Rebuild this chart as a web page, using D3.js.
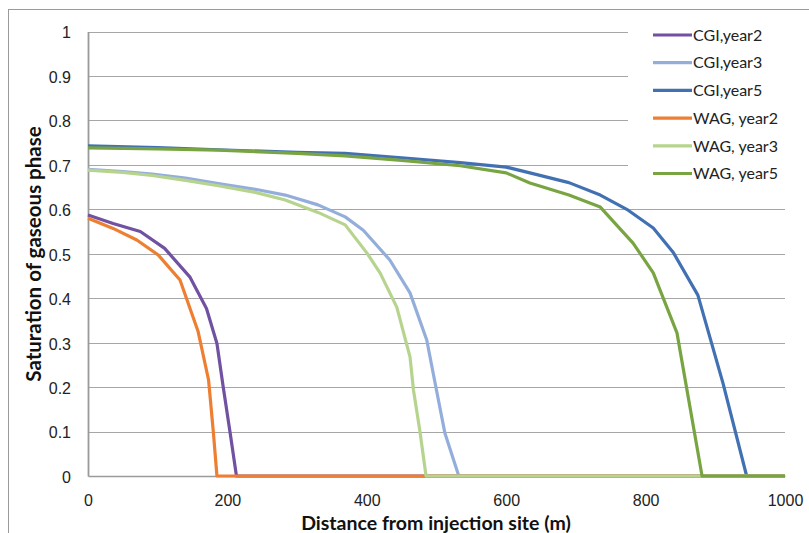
<!DOCTYPE html>
<html>
<head>
<meta charset="utf-8">
<script src="https://cdn.jsdelivr.net/npm/d3@7"></script>
<style>
  html, body { margin: 0; padding: 0; background: #fff; }
  svg { display: block; font-family: Lato, "Open Sans", sans-serif; }
</style>
</head>
<body>
<svg id="chart" width="809" height="533"></svg>
<script>
// ---- data ----
const seriesNames = ["CGI,year2", "CGI,year3", "CGI,year5", "WAG, year2", "WAG, year3", "WAG, year5"];
const seriesColors = ["#7151A1", "#94AEDB", "#4271B3", "#EE7F32", "#B7D48E", "#78A542"];

const cgiYear2Dist = [0, 36, 75, 110, 146, 170, 185, 194, 204, 213, 1000];
const cgiYear2Sat  = [0.587, 0.568, 0.55, 0.512, 0.448, 0.377, 0.298, 0.2, 0.096, 0, 0];

const cgiYear3Dist = [0, 50, 92, 140, 187, 240, 283, 330, 369, 395, 433, 462, 486, 500, 512, 532, 1000];
const cgiYear3Sat  = [0.69, 0.685, 0.679, 0.67, 0.658, 0.645, 0.632, 0.61, 0.583, 0.553, 0.486, 0.412, 0.306, 0.193, 0.097, 0, 0];

const cgiYear5Dist = [0, 100, 187, 300, 369, 450, 534, 600, 634, 690, 735, 775, 811, 840, 875, 911, 945, 1000];
const cgiYear5Sat  = [0.743, 0.739, 0.734, 0.728, 0.726, 0.716, 0.705, 0.695, 0.682, 0.66, 0.632, 0.598, 0.558, 0.502, 0.407, 0.209, 0, 0];

const wagYear2Dist = [0, 36, 70, 101, 132, 158, 173, 180, 185, 1000];
const wagYear2Sat  = [0.58, 0.557, 0.531, 0.497, 0.441, 0.325, 0.216, 0.096, 0, 0];

const wagYear3Dist = [0, 50, 92, 140, 187, 240, 283, 330, 369, 400, 419, 443, 462, 467, 476, 485, 1000];
const wagYear3Sat  = [0.688, 0.683, 0.676, 0.665, 0.653, 0.638, 0.621, 0.593, 0.565, 0.502, 0.457, 0.38, 0.268, 0.193, 0.103, 0, 0];

const wagYear5Dist = [0, 100, 187, 300, 369, 450, 534, 600, 634, 690, 735, 782, 811, 845, 881, 1000];
const wagYear5Sat  = [0.738, 0.736, 0.733, 0.726, 0.72, 0.71, 0.698, 0.682, 0.659, 0.632, 0.605, 0.524, 0.457, 0.322, 0, 0];

const xTicks = [0, 200, 400, 600, 800, 1000];
const yTicks = [0, 0.1, 0.2, 0.3, 0.4, 0.5, 0.6, 0.7, 0.8, 0.9, 1];
const xTitle = "Distance from injection site (m)";
const yTitle = "Saturation of gaseous phase";

const seriesDist = [cgiYear2Dist, cgiYear3Dist, cgiYear5Dist, wagYear2Dist, wagYear3Dist, wagYear5Dist];
const seriesSat  = [cgiYear2Sat, cgiYear3Sat, cgiYear5Sat, wagYear2Sat, wagYear3Sat, wagYear5Sat];

// ---- layout ----
const svg = d3.select("#chart");
const plot = { left: 88, top: 31.5, right: 785, bottom: 476 };

const x = d3.scaleLinear().domain([0, 1000]).range([plot.left, plot.right]);
const y = d3.scaleLinear().domain([0, 1]).range([plot.bottom, plot.top]);

// outer chart border
svg.append("rect")
  .attr("x", 8.5).attr("y", 9.5)
  .attr("width", 900).attr("height", 700)
  .attr("fill", "none").attr("stroke", "#9a9a9a").attr("stroke-width", 1);

// gridlines
svg.append("g")
  .selectAll("line")
  .data(yTicks.filter(d => d > 0))
  .join("line")
  .attr("x1", plot.left).attr("x2", plot.right)
  .attr("y1", d => Math.round(y(d)) + 0.5).attr("y2", d => Math.round(y(d)) + 0.5)
  .attr("stroke", "#a6a6a6").attr("stroke-width", 1.2);

// y axis (labels only, no ticks)
const yAxis = d3.axisLeft(y).tickValues(yTicks).tickSize(0).tickPadding(17)
  .tickFormat(d => String(+d.toFixed(1)));
const gy = svg.append("g").attr("transform", `translate(${plot.left},0)`).call(yAxis);
gy.select(".domain").attr("stroke", "#9a9a9a").attr("stroke-width", 1.8);
gy.selectAll("text").attr("font-size", 16).attr("fill", "#222").attr("dy", "0.4em");

// x axis
const xAxis = d3.axisBottom(x).tickValues(xTicks).tickSize(0).tickPadding(19)
  .tickFormat(d3.format("d"));
const gx = svg.append("g").attr("transform", `translate(0,${plot.bottom})`).call(xAxis);
gx.select(".domain").attr("stroke", "#9a9a9a").attr("stroke-width", 1.5);
gx.selectAll("text").attr("font-size", 16).attr("fill", "#222");

// lines
const line = d3.line().x(d => x(d[0])).y(d => y(d[1]));
seriesNames.forEach((name, i) => {
  const pts = seriesDist[i].map((dd, j) => [dd, seriesSat[i][j]]);
  svg.append("path")
    .datum(pts)
    .attr("d", line)
    .attr("fill", "none")
    .attr("stroke", seriesColors[i])
    .attr("stroke-width", 3.2)
    .attr("stroke-linejoin", "round");
});

// legend
const legend = svg.append("g");
legend.append("rect")
  .attr("x", 628).attr("y", 18).attr("width", 200).attr("height", 172)
  .attr("fill", "#fff");
const rowY = d3.scaleLinear().domain([0, 5]).range([35, 173.5]);
seriesNames.forEach((name, i) => {
  legend.append("line")
    .attr("x1", 653).attr("x2", 692)
    .attr("y1", rowY(i)).attr("y2", rowY(i))
    .attr("stroke", seriesColors[i]).attr("stroke-width", 3.2);
  legend.append("text")
    .attr("x", 693).attr("y", rowY(i)).attr("dy", "0.36em")
    .attr("font-size", 16).attr("fill", "#222")
    .text(name);
});

// axis titles
svg.append("text")
  .attr("x", 436).attr("y", 530)
  .attr("text-anchor", "middle")
  .attr("font-size", 19.5).attr("font-weight", "bold").attr("fill", "#111")
  .text(xTitle);

svg.append("text")
  .attr("transform", "translate(41,254) rotate(-90)")
  .attr("text-anchor", "middle")
  .attr("font-size", 20.5).attr("font-weight", "bold").attr("fill", "#111")
  .text(yTitle);
</script>
</body>
</html>
